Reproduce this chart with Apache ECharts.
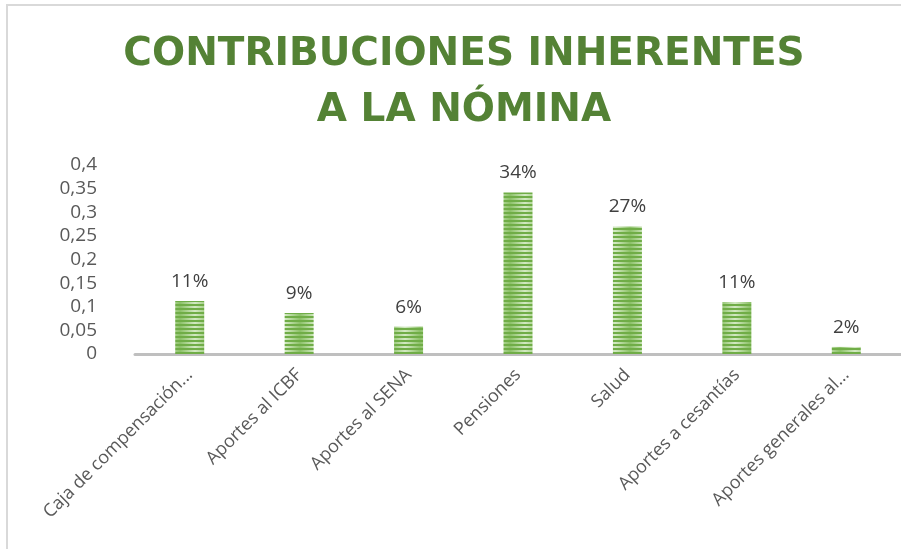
<!DOCTYPE html>
<html>
<head>
<meta charset="utf-8">
<script src="https://cdn.jsdelivr.net/npm/echarts@6/dist/echarts.min.js"></script>
<style>
  html, body { margin: 0; padding: 0; background: #fff; }
  #chart { width: 901px; height: 549px; }
</style>
</head>
<body>
<div id="chart"></div>
<script>
var categories = ['Caja de compensación...', 'Aportes al ICBF', 'Aportes al SENA', 'Pensiones', 'Salud', 'Aportes a cesantías', 'Aportes generales al...'];
var values = [0.112, 0.087, 0.058, 0.342, 0.27, 0.11, 0.015];
var labels = ['11%', '9%', '6%', '34%', '27%', '11%', '2%'];

// striped fill like the original
function stripes () {
  var c = document.createElement('canvas');
  c.width = 30;
  c.height = 4;
  var ctx = c.getContext('2d');
  var g = ctx.createLinearGradient(0, 0, 30, 0);
  g.addColorStop(0, '#8cc168');
  g.addColorStop(0.5, '#d3e9c3');
  g.addColorStop(1, '#8cc168');
  ctx.fillStyle = '#70ad47';
  ctx.fillRect(0, 0, 30, 2);
  ctx.fillStyle = g;
  ctx.fillRect(0, 2, 30, 2);
  return c;
}

var chart = echarts.init(document.getElementById('chart'));
var option = {
  animation: false,
  title: {
    text: 'CONTRIBUCIONES INHERENTES\nA LA NÓMINA',
    left: 459,
    textAlign: 'center',
    top: 22,
    textStyle: {
      fontFamily: 'DejaVu Sans',
      fontWeight: 'bold',
      fontSize: 39,
      lineHeight: 56,
      color: '#548235'
    }
  },
  grid: {
    left: 135,
    right: -4,
    top: 165,
    bottom: 195,
    containLabel: false
  },
  xAxis: {
    type: 'category',
    data: categories,
    axisLine: { lineStyle: { color: '#bfbfbf', width: 3 } },
    axisTick: { show: false },
    axisLabel: {
      rotate: 45,
      interval: 0,
      margin: 18,
      fontFamily: 'Open Sans',
      fontSize: 18,
      color: '#595959'
    }
  },
  yAxis: {
    type: 'value',
    min: 0,
    max: 0.4,
    interval: 0.05,
    splitLine: { show: false },
    axisLine: { show: false },
    axisLabel: {
      margin: 38,
      fontFamily: 'Open Sans',
      fontSize: 19,
      color: '#595959',
      formatter: function (v) {
        return String(Math.round(v * 100) / 100).replace('.', ',');
      }
    }
  },
  series: [{
    type: 'bar',
    data: values,
    barWidth: 29,
    itemStyle: { color: { image: stripes(), repeat: 'repeat' } },
    label: {
      show: true,
      position: 'top',
      distance: 10,
      fontFamily: 'Open Sans',
      fontSize: 19,
      color: '#404040',
      formatter: function (p) { return labels[p.dataIndex]; }
    }
  }],
  graphic: [{
    type: 'rect',
    shape: { x: 7, y: 5, width: 1000, height: 1000 },
    style: { fill: 'none', stroke: '#d9d9d9', lineWidth: 2 }
  }]
};
chart.setOption(option);
</script>
</body>
</html>
